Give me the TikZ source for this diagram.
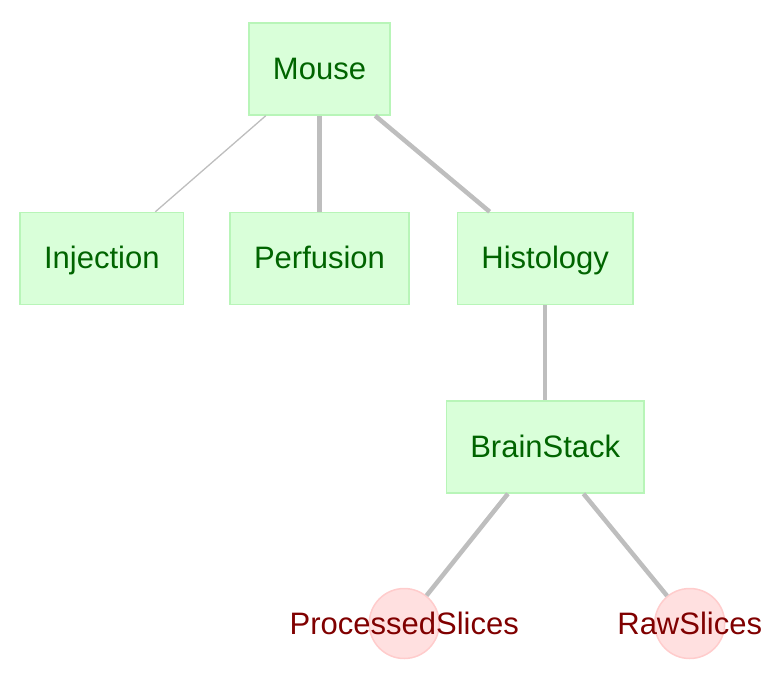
\documentclass[tikz,border=0pt]{standalone}
\usepackage{fontspec}
\setmainfont{Liberation Sans}
\usetikzlibrary{positioning}
\definecolor{taskfill}{HTML}{D9FFD9}
\definecolor{taskdraw}{HTML}{B8F5B8}
\definecolor{tasktext}{HTML}{006400}
\definecolor{slicefill}{HTML}{FFE0E0}
\definecolor{slicedraw}{HTML}{FFCCCC}
\definecolor{slicetext}{HTML}{800000}
\definecolor{edgegray}{HTML}{BEBEBE}
\tikzset{task/.style={rectangle, minimum height=92pt, text height=22pt, text depth=2pt, inner xsep=24pt, fill=taskfill, draw=taskdraw, line width=1.5pt, text=tasktext, font=\fontsize{31}{36}\selectfont}}
\tikzset{slice/.style={circle, minimum size=70pt, inner sep=0pt, fill=slicefill, draw=slicedraw, line width=1.5pt}}
\tikzset{slicelabel/.style={label={[text=slicetext, font=\fontsize{31}{36}\selectfont]center:#1}}}
\tikzset{thinlink/.style={draw=edgegray, line width=1.3pt}}
\tikzset{link/.style={draw=edgegray, line width=4.5pt}}

\begin{document}
\begin{tikzpicture}[x=1pt, y=-1pt]

\useasboundingbox (0,0) rectangle (780,680);

% Top

	\node (mouse) [task] at (319.5,69) {Mouse};


% Second row

	\node (perfusion) [task, below=96pt of mouse] {Perfusion};

	\node (injection) [task, left=45pt of perfusion] {Injection};

	\node (histology) [task, right=47pt of perfusion] {Histology};


% Stack

	\node (brainstack) [task, below=95pt of histology] {BrainStack};


% Slices

	\node (processed) [slice, slicelabel=ProcessedSlices, below=94pt of brainstack, xshift=-141pt] {};

	\node (raw) [slice, slicelabel=RawSlices, below=94pt of brainstack, xshift=144.5pt] {};


% Links

	\draw [thinlink] (mouse) -- (injection);
	\draw [link] (mouse) -- (perfusion);
	\draw [link] (mouse) -- (histology);

	\draw [link] (histology) -- (brainstack);

	\draw [link] (brainstack) -- (processed);
	\draw [link] (brainstack) -- (raw);

\end{tikzpicture}
\end{document}
